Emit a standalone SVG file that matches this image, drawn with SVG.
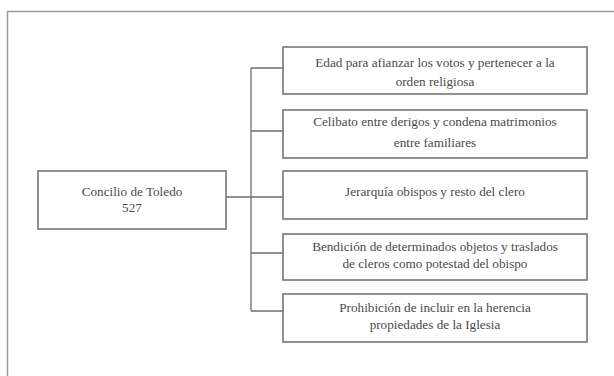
<svg xmlns="http://www.w3.org/2000/svg" width="614" height="376" viewBox="0 0 614 376">
<style>
.bg{fill:#fff}
.frame{fill:none;stroke:#9a9a9a;stroke-width:1.5}
.box{fill:#fff;stroke:#6e6e6e;stroke-width:1.5}
.conn{fill:none;stroke:#6e6e6e;stroke-width:1.3}
.t{font-family:'Liberation Serif','Times New Roman',serif;font-size:13.2px;fill:#4a4a4a;text-anchor:middle}
</style>
<rect class="bg" width="614" height="376"/>
<path class="frame" d="M7.5,376 V11.5 H614"/>
<g id="connectors">
<path class="conn" d="M226,197 H251 M251,68 V311 M251,68 H283 M251,131 H283 M251,197 H283 M251,253 H283 M251,311 H283"/>
</g>
<g id="n0" class="t" font-family="Liberation Serif, serif">
<rect class="box" x="38" y="171" width="188" height="58"/>
<text x="132" y="196">Concilio de Toledo</text>
<text x="132" y="212">527</text>
</g>
<g id="n1" class="t" font-family="Liberation Serif, serif">
<rect class="box" x="283" y="47" width="304" height="47"/>
<text x="435" y="67">Edad para afianzar los votos y pertenecer a la</text>
<text x="435" y="86">orden religiosa</text>
</g>
<g id="n2" class="t" font-family="Liberation Serif, serif">
<rect class="box" x="283" y="110" width="304" height="48"/>
<text x="435" y="126">Celibato entre derigos y condena matrimonios</text>
<text x="435" y="147">entre familiares</text>
</g>
<g id="n3" class="t" font-family="Liberation Serif, serif">
<rect class="box" x="283" y="171" width="304" height="48"/>
<text x="435" y="196">Jerarquía obispos y resto del clero</text>
</g>
<g id="n4" class="t" font-family="Liberation Serif, serif">
<rect class="box" x="283" y="234" width="304" height="46"/>
<text x="435" y="251">Bendición de determinados objetos y traslados</text>
<text x="435" y="268">de cleros como potestad del obispo</text>
</g>
<g id="n5" class="t" font-family="Liberation Serif, serif">
<rect class="box" x="283" y="294" width="304" height="48"/>
<text x="435" y="312">Prohibición de incluir en la herencia</text>
<text x="435" y="329">propiedades de la Iglesia</text>
</g>
</svg>
